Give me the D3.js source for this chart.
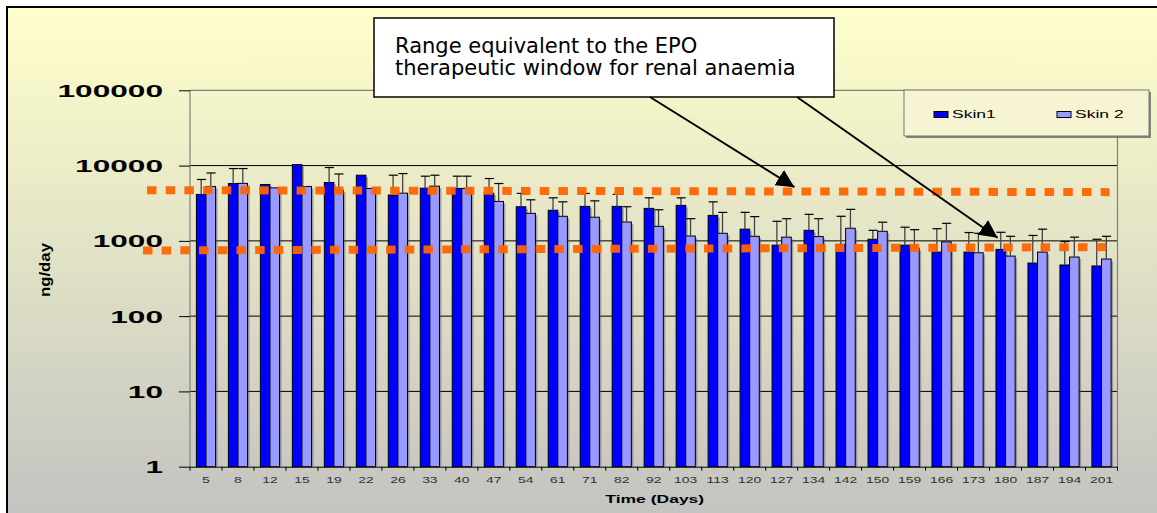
<!DOCTYPE html>
<html>
<head>
<meta charset="utf-8">
<script src="https://cdn.jsdelivr.net/npm/d3@7"></script>
<style>
  body { margin: 0; background: #fff; }
  svg { display: block; }
</style>
</head>
<body>
<svg id="chart"></svg>
<script>
// values (ng/day)
const days = ["5","8","12","15","19","22","26","33","40","47","54","61","71","82","92","103","113","120","127","134","142","150","159","166","173","180","187","194","201"];
const skin1    = [4140,5780,5610,10300,5960,7450,4060,5010,4970,4300,2840,2550,2870,2870,2700,2960,2180,1430,877,1380,900,1050,877,709,709,770,507,478,464];
const skin1Err = [6540,9130,null,null,9420,null,7450,7230,7230,6730,4270,3730,4270,4140,3730,3730,3300,2390,1820,2250,2120,1380,1520,1450,1290,1300,1180,980,1050];
const skin2    = [5280,5800,5060,5280,4700,4970,4300,5330,4970,3340,2320,2120,2060,1780,1560,1160,1260,1150,1120,1140,1470,1340,800,970,695,628,709,610,574];
const skin2Err = [7980,9130,null,null,7740,null,7830,7450,7230,5780,3510,3300,3400,2840,2590,1970,2390,2100,1970,1970,2620,1770,1410,1710,1260,1150,1430,1120,1150];
const seriesNames = ["Skin1", "Skin 2"];
const yTicks = [1, 10, 100, 1000, 10000, 100000];
// therapeutic window lines: value at left end, value at right end
const windowUpper = [4720, 4440];
const windowLower = [745, 826];
// arrow targets: [position in categories, value]
const arrowTargets = [[18.9, 5170], [25.25, 1100]];
const noteLines = ["Range equivalent to the EPO", "therapeutic window for renal anaemia"];

const W = 1157, H = 513;
const svg = d3.select("#chart").attr("width", W).attr("height", H);
const plotLeft = 190, plotRight = 1117.5, plotTop = 90.3, plotBottom = 466.7;

const x = d3.scaleBand().domain(days).range([plotLeft, plotRight]).paddingInner(0.4).paddingOuter(0.2);
const x1 = d3.scaleBand().domain([0, 1]).range([0, x.bandwidth()]);
const xPos = d3.scaleLinear().domain([0, days.length]).range([plotLeft, plotRight]);
const y = d3.scaleLog().domain([1, 100000]).range([plotBottom, plotTop]);

const defs = svg.append("defs");
const grad = defs.append("linearGradient").attr("id", "bg")
  .attr("x1", 0).attr("y1", 0).attr("x2", 0).attr("y2", 1);
grad.append("stop").attr("offset", "0%").attr("stop-color", "#ffffcc");
grad.append("stop").attr("offset", "100%").attr("stop-color", "#c0c0c0");
defs.append("marker").attr("id", "head")
  .attr("viewBox", "0 0 10 10").attr("refX", 10).attr("refY", 5)
  .attr("markerWidth", 9).attr("markerHeight", 9).attr("markerUnits", "strokeWidth")
  .attr("orient", "auto")
  .append("path").attr("d", "M0,0 L10,5 L0,10 z").attr("fill", "#000");

// frame
svg.append("rect").attr("x", 7).attr("y", 7).attr("width", W + 20).attr("height", H + 20)
  .attr("fill", "url(#bg)").attr("stroke", "#000").attr("stroke-width", 2);

// gridlines
svg.append("g").selectAll("line").data(yTicks.slice(1, -1)).join("line")
  .attr("x1", plotLeft).attr("x2", plotRight)
  .attr("y1", d => y(d)).attr("y2", d => y(d))
  .attr("stroke", "#000").attr("stroke-width", 1);

// plot border (grey)
svg.append("path")
  .attr("d", `M${plotLeft},${plotBottom}V${plotTop}H${plotRight}V${plotBottom}`)
  .attr("fill", "none").attr("stroke", "#808080").attr("stroke-width", 1.2);

// y axis
const yAxis = svg.append("g").attr("transform", `translate(${plotLeft},0)`)
  .call(d3.axisLeft(y).tickValues(yTicks).tickSize(11).tickFormat(d3.format("d")));
yAxis.select(".domain").remove();
yAxis.selectAll("line").attr("stroke", "#000");
yAxis.selectAll("text")
  .attr("x", 0).attr("dy", "0.36em")
  .attr("transform", "translate(-27,0) scale(1.86,1)")
  .attr("text-anchor", "end")
  .attr("fill", "#000")
  .style("font-family", "'Liberation Sans', Arial, sans-serif")
  .style("font-size", "17px").style("font-weight", "bold");

// x axis
const xAxis = svg.append("g").attr("transform", `translate(0,${plotBottom})`)
  .call(d3.axisBottom(x).tickSize(0));
xAxis.select(".domain").attr("stroke", "#000");
xAxis.selectAll("text")
  .attr("y", 16).attr("dy", 0)
  .attr("transform", "scale(1.55,1)")
  .attr("fill", "#333")
  .style("font-family", "'Liberation Sans', Arial, sans-serif")
  .style("font-size", "9px");
xAxis.append("g").selectAll("line").data(d3.range(days.length + 1)).join("line")
  .attr("x1", d => xPos(d)).attr("x2", d => xPos(d))
  .attr("y1", 0).attr("y2", 4)
  .attr("stroke", "#000");

// bars
const series = [
  {name: seriesNames[0], values: skin1, err: skin1Err, color: "#0000ff"},
  {name: seriesNames[1], values: skin2, err: skin2Err, color: "#9999ff"}
];
const rows = [];
series.forEach((s, si) => {
  days.forEach((d, i) => rows.push({day: d, si: si, v: s.values[i], e: s.err[i], color: s.color}));
});
const bw = x1.bandwidth();
const bars = svg.append("g");
bars.selectAll("rect.shadow").data(rows).join("rect").attr("class", "shadow")
  .attr("x", d => x(d.day) + x1(d.si) + 2).attr("y", d => y(d.v) + 2)
  .attr("width", bw).attr("height", d => plotBottom - y(d.v) - 2)
  .attr("fill", "#555").attr("opacity", 0.45);
bars.selectAll("rect.bar").data(rows).join("rect").attr("class", "bar")
  .attr("x", d => x(d.day) + x1(d.si)).attr("y", d => y(d.v))
  .attr("width", bw).attr("height", d => plotBottom - y(d.v))
  .attr("fill", d => d.color).attr("stroke", "#000").attr("stroke-width", 1);

// error bars (upper only)
const errRows = rows.filter(d => d.e != null);
const eb = svg.append("g");
eb.selectAll("line.stem").data(errRows).join("line").attr("class", "stem")
  .attr("x1", d => x(d.day) + x1(d.si) + bw / 2).attr("x2", d => x(d.day) + x1(d.si) + bw / 2)
  .attr("y1", d => y(d.v)).attr("y2", d => y(d.e))
  .attr("stroke", "#444").attr("stroke-width", 1.3);
eb.selectAll("line.cap").data(errRows).join("line").attr("class", "cap")
  .attr("x1", d => x(d.day) + x1(d.si) + 0.5).attr("x2", d => x(d.day) + x1(d.si) + bw)
  .attr("y1", d => y(d.e)).attr("y2", d => y(d.e))
  .attr("stroke", "#000").attr("stroke-width", 1.2);

// therapeutic window lines
const wx0 = plotLeft - 1.47 * x.step(), wx1 = plotRight - 8;
svg.append("g").selectAll("line").data([windowUpper, windowLower]).join("line")
  .attr("x1", (d, i) => i === 0 ? wx0 + 4 : wx0).attr("x2", (d, i) => i === 0 ? wx1 : wx1 - 3)
  .attr("y1", d => y(d[0])).attr("y2", d => y(d[1]))
  .attr("stroke", "#ff6600").attr("stroke-width", 8)
  .attr("stroke-dasharray", "9.5 9.2").attr("opacity", 0.95);

// annotation box
const box = {x: 374, y: 18, w: 460, h: 79};
svg.append("rect").attr("x", box.x).attr("y", box.y).attr("width", box.w).attr("height", box.h)
  .attr("fill", "#fff").attr("stroke", "#000").attr("stroke-width", 1.5);
svg.append("g").selectAll("text").data(noteLines).join("text")
  .attr("x", box.x + 21).attr("y", (d, i) => 53 + i * 22)
  .style("font-family", "'DejaVu Sans', Verdana, sans-serif")
  .style("font-size", "21px").attr("fill", "#000")
  .text(d => d);
const arrowStarts = [650, 797];
svg.append("g").selectAll("line").data(arrowTargets).join("line")
  .attr("x1", (d, i) => arrowStarts[i]).attr("y1", box.y + box.h)
  .attr("x2", d => xPos(d[0])).attr("y2", d => y(d[1]))
  .attr("stroke", "#000").attr("stroke-width", 2)
  .attr("marker-end", "url(#head)");

// legend
const lg = svg.append("g");
lg.append("rect").attr("x", 906).attr("y", 92).attr("width", 245).attr("height", 46).attr("fill", "#555").attr("opacity", 0.7);
lg.append("rect").attr("x", 904).attr("y", 90).attr("width", 245).attr("height", 46)
  .attr("fill", "#f6f4d2").attr("stroke", "#777").attr("stroke-width", 1);
const legX = [934, 1057];
series.forEach((s, i) => {
  lg.append("rect").attr("x", legX[i]).attr("y", 111.5).attr("width", 14).attr("height", 6)
    .attr("fill", s.color).attr("stroke", "#000").attr("stroke-width", 1);
  lg.append("text").attr("x", 0).attr("y", 0)
    .attr("transform", `translate(${legX[i] + 18},118) scale(1.75,1)`)
    .style("font-family", "'Liberation Sans', Arial, sans-serif")
    .style("font-size", "10px").attr("fill", "#000")
    .text(s.name);
});

// axis titles
svg.append("text")
  .attr("transform", `translate(${(plotLeft + plotRight) / 2 + 1},503) scale(1.75,1)`)
  .attr("text-anchor", "middle")
  .style("font-family", "'Liberation Sans', Arial, sans-serif")
  .style("font-size", "10px").style("font-weight", "bold").attr("fill", "#000")
  .text("Time (Days)");
svg.append("text")
  .attr("transform", "translate(50,270) rotate(-90)")
  .attr("text-anchor", "middle")
  .style("font-family", "'Liberation Sans', Arial, sans-serif")
  .style("font-size", "14px").style("font-weight", "bold").attr("fill", "#000")
  .attr("textLength", 54).attr("lengthAdjust", "spacingAndGlyphs")
  .text("ng/day");
</script>
</body>
</html>
